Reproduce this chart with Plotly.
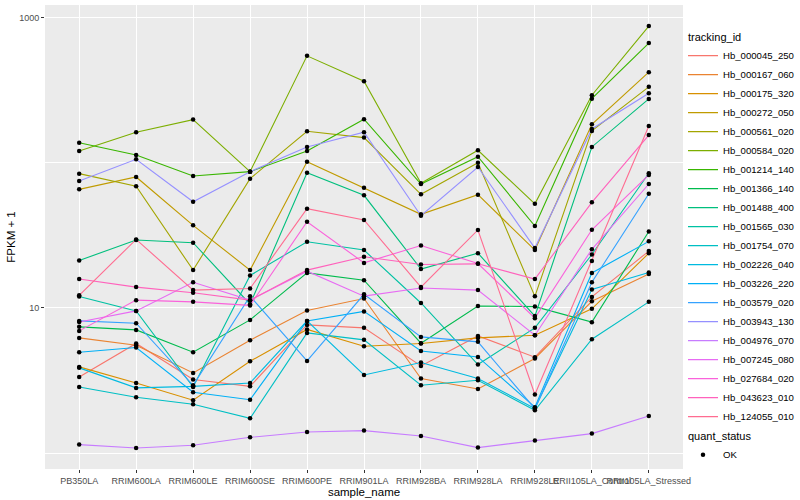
import plotly.graph_objects as go

samples = ["PB350LA", "RRIM600LA", "RRIM600LE", "RRIM600SE", "RRIM600PE", "RRIM901LA",
           "RRIM928BA", "RRIM928LA", "RRIM928LE", "RRII105LA_Control", "RRII105LA_Stressed"]

hb_000045_250 = [3.34, 5.68, 3.21, 2.88, 7.63, 7.28, 3.98, 6.41, 4.57, 11.9, 24.6]
hb_000167_060 = [6.21, 5.53, 3.56, 5.99, 9.6, 11.6, 3.26, 2.76, 4.48, 11.1, 17.1]
hb_000175_320 = [3.92, 3.04, 2.31, 4.29, 7.1, 5.44, 5.68, 6.21, 6.48, 9.84, 23.8]
hb_000272_050 = [65.5, 79.7, 37.0, 18.2, 101.6, 67.2, 44.1, 60.2, 25.0, 184, 420]
hb_000561_020 = [84.0, 68.8, 18.2, 77.6, 164.7, 148.8, 60.5, 100, 12.0, 165.4, 333]
hb_000584_020 = [120.4, 162, 198, 86.7, 544, 364, 72.1, 121.8, 52.1, 291.6, 872]
hb_001214_140 = [137.3, 113, 81.0, 86.7, 120.4, 199.3, 71.3, 110, 36.6, 276, 666]
hb_001366_140 = [7.4, 7.05, 4.95, 8.26, 17.4, 15.5, 5.71, 10.3, 10.2, 7.97, 33.6]
hb_001488_400 = [21.2, 29.3, 28.1, 10.6, 85.3, 59.6, 18.5, 23.8, 8.77, 128.3, 275]
hb_001565_030 = [11.98, 9.53, 2.85, 16.7, 28.5, 25.0, 10.8, 4.07, 7.28, 23.3, 84.5]
hb_001754_070 = [2.85, 2.42, 2.17, 1.735, 6.72, 6.02, 2.93, 3.17, 1.97, 6.08, 11.0]
hb_002226_040 = [3.86, 2.81, 2.88, 3.04, 8.13, 3.45, 4.2, 3.26, 2.03, 13.4, 17.5]
hb_003226_220 = [4.95, 5.33, 2.62, 2.33, 8.13, 9.45, 5.05, 4.59, 2.07, 17.4, 28.7]
hb_003579_020 = [8.13, 7.84, 2.93, 12.04, 4.31, 12.4, 6.31, 5.83, 2.02, 15.0, 61.1]
hb_003943_130 = [74.8, 105.5, 53.8, 86.7, 128.3, 162, 43.1, 93.4, 25.8, 170.8, 301]
hb_004976_070 = [1.143, 1.083, 1.13, 1.283, 1.396, 1.427, 1.31, 1.09, 1.218, 1.361, 1.8]
hb_007245_080 = [8.0, 9.53, 15.0, 11.3, 17.9, 12.04, 13.7, 13.25, 6.48, 25.3, 71.3]
hb_027684_020 = [6.94, 11.3, 11.0, 10.4, 39.2, 20.4, 26.9, 20.2, 8.49, 34.5, 82.3]
hb_043623_010 = [15.8, 13.9, 12.7, 11.3, 18.2, 22.5, 19.9, 20.1, 15.8, 53.3, 155]
hb_124055_010 = [12.2, 29.6, 13.25, 13.6, 48.2, 40.3, 13.9, 34.4, 2.53, 21.0, 179]

tracking_ids = ["Hb_000045_250", "Hb_000167_060", "Hb_000175_320", "Hb_000272_050",
                "Hb_000561_020", "Hb_000584_020", "Hb_001214_140", "Hb_001366_140",
                "Hb_001488_400", "Hb_001565_030", "Hb_001754_070", "Hb_002226_040",
                "Hb_003226_220", "Hb_003579_020", "Hb_003943_130", "Hb_004976_070",
                "Hb_007245_080", "Hb_027684_020", "Hb_043623_010", "Hb_124055_010"]
series = [hb_000045_250, hb_000167_060, hb_000175_320, hb_000272_050, hb_000561_020,
          hb_000584_020, hb_001214_140, hb_001366_140, hb_001488_400, hb_001565_030,
          hb_001754_070, hb_002226_040, hb_003226_220, hb_003579_020, hb_003943_130,
          hb_004976_070, hb_007245_080, hb_027684_020, hb_043623_010, hb_124055_010]

colors = ["#F8766D", "#EA8331", "#D89000", "#C09B00", "#A3A500", "#7CAE00", "#39B600",
          "#00BB4E", "#00BF7D", "#00C1A3", "#00BFC4", "#00BAE0", "#00B0F6", "#35A2FF",
          "#9590FF", "#C77CFF", "#E76BF3", "#FA62DB", "#FF62BC", "#FF6C91"]

FONT = "Liberation Sans, Arial, sans-serif"
fig = go.Figure()
for i, (name, vals) in enumerate(zip(tracking_ids, series)):
    fig.add_trace(go.Scatter(
        x=samples, y=vals, mode="lines", name=name,
        line=dict(color=colors[i], width=1.1),
        legendgroup="tracking_id",
        legendgrouptitle=dict(text="tracking_id", font=dict(size=11, color="black")) if i == 0 else None,
        hoverinfo="skip"))

px, py = [], []
for vals in series:
    px.extend(samples)
    py.extend(vals)
fig.add_trace(go.Scatter(
    x=px, y=py, mode="markers", name="OK",
    marker=dict(color="black", size=4.5),
    legendgroup="quant_status",
    legendgrouptitle=dict(text="quant_status", font=dict(size=11, color="black"))))

fig.update_layout(
    width=800, height=500,
    margin=dict(l=45, r=117, t=5, b=31, autoexpand=False),
    paper_bgcolor="white", plot_bgcolor="#EBEBEB",
    font=dict(family=FONT, size=9, color="black"),
    showlegend=True,
    legend=dict(x=1.0, y=0.963, xanchor="left", yanchor="top",
                font=dict(size=9.6, color="black"), tracegroupgap=0,
                itemwidth=30, bgcolor="rgba(0,0,0,0)"),
)
fig.update_xaxes(
    type="category", categoryorder="array", categoryarray=samples,
    range=[-0.6, 10.6], showgrid=True, gridcolor="white", gridwidth=1.1,
    tickangle=0, ticks="outside", ticklen=3, tickcolor="#333333",
    tickfont=dict(size=9, color="#4D4D4D", family=FONT),
    title=dict(text="sample_name", font=dict(size=11.5, color="black"), standoff=0),
    automargin=False, zeroline=False, showline=False)
fig.update_yaxes(
    type="log", range=[-0.11, 3.086],
    tickvals=[10, 1000], ticktext=["10", "1000"],
    showgrid=True, gridcolor="white", gridwidth=1.1,
    minor=dict(tickvals=[1, 100], showgrid=True, gridcolor="white", gridwidth=0.5, ticks=""),
    ticks="outside", ticklen=3, tickcolor="#333333",
    tickfont=dict(size=9, color="#4D4D4D", family=FONT),
    title=dict(text="FPKM + 1", font=dict(size=11.5, color="black"), standoff=1),
    automargin=False, zeroline=False, showline=False)

fig.write_html("out.html", config={"displayModeBar": False},
               post_script="document.body.style.margin='0';")
